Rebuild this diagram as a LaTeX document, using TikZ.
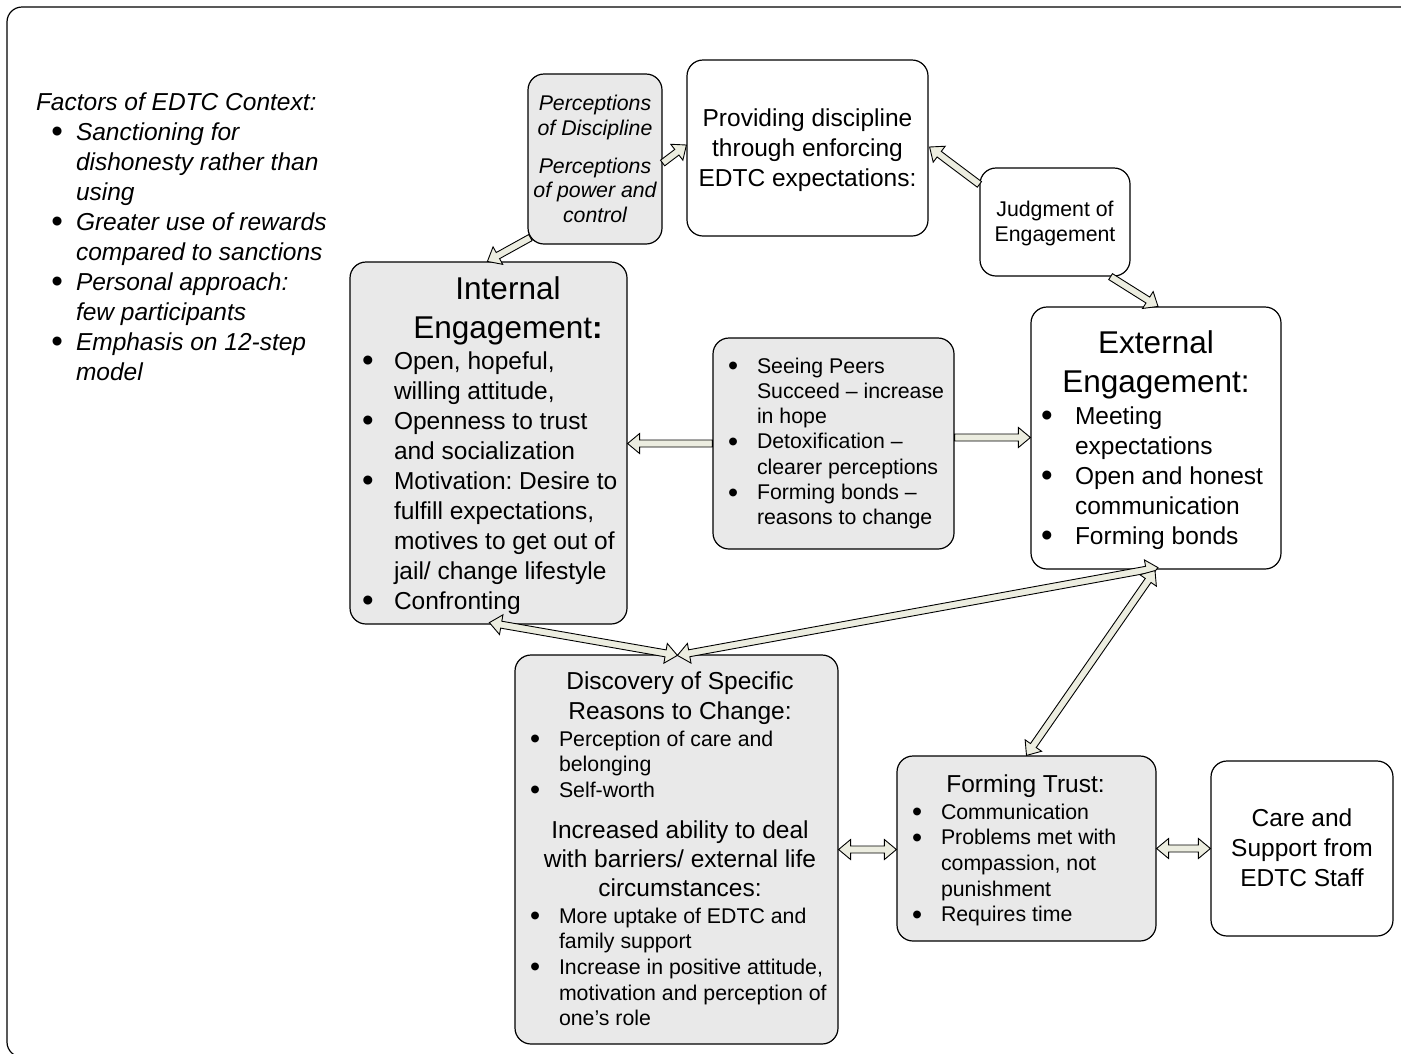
\documentclass[tikz,border=0pt]{standalone}
\usepackage{fontspec}
\usepackage{graphicx}
\setmainfont{Liberation Sans}
\usetikzlibrary{calc}
\definecolor{boxgray}{RGB}{233,233,233}
\definecolor{arrfill}{RGB}{236,237,224}
\frenchspacing

\newcommand{\fT}{\fontsize{31.5pt}{39pt}\selectfont}
\newcommand{\fA}{\fontsize{24.5pt}{30pt}\selectfont}
\newcommand{\fB}{\fontsize{21.3pt}{25.5pt}\selectfont}
\newcommand{\bul}{\raisebox{-0.12em}{\scalebox{1.35}{\textbullet}}}
\newcommand{\Cblk}[1]{\vtop{\lineskiplimit=-100pt\lineskip=0pt\halign{\hfil##\hfil\cr#1\crcr}}}
\newcommand{\Bblk}[2]{\vtop{\lineskiplimit=-100pt\lineskip=0pt\halign{\hbox to #1{##\hss}&##\hfil\cr#2\crcr}}}

\newcommand{\sarrow}[2]{%
 \coordinate (aA) at (#1); \coordinate (aB) at (#2);
 \coordinate (aH) at ($(aB)!12pt!(aA)$);
 \draw[arr] ($(aA)!3.5pt!90:(aB)$) -- ($(aH)!3.5pt!90:(aB)$) -- ($(aH)!10pt!90:(aB)$) -- (aB)
   -- ($(aH)!10pt!-90:(aB)$) -- ($(aH)!3.5pt!-90:(aB)$) -- ($(aA)!3.5pt!-90:(aB)$) -- cycle;}
\newcommand{\darrow}[2]{%
 \coordinate (aA) at (#1); \coordinate (aB) at (#2);
 \coordinate (aH) at ($(aB)!12pt!(aA)$);
 \coordinate (aG) at ($(aA)!12pt!(aB)$);
 \draw[arr] (aA) -- ($(aG)!10pt!90:(aB)$) -- ($(aG)!3.5pt!90:(aB)$) -- ($(aH)!3.5pt!90:(aB)$) -- ($(aH)!10pt!90:(aB)$) -- (aB)
   -- ($(aH)!10pt!-90:(aB)$) -- ($(aH)!3.5pt!-90:(aB)$) -- ($(aG)!3.5pt!-90:(aB)$) -- ($(aG)!10pt!-90:(aB)$) -- cycle;}

\tikzset{
  box/.style={draw=black, line width=1.2pt, rounded corners=16pt, inner sep=0pt, fill=white},
  gbox/.style={box, fill=boxgray},
  arr/.style={draw=black, line width=0.9pt, fill=arrfill, line join=miter},
  txt/.style={inner sep=0pt, outer sep=0pt}
}

\begin{document}
\begin{tikzpicture}[x=1pt, y=-1pt]
\useasboundingbox (0,0) rectangle (1401,1053);
\begin{scope}
\clip (0,0) rectangle (1401,1053);
\draw[line width=1.2pt, rounded corners=15pt] (7,7) rectangle (1450,1057);
\end{scope}

% boxes
\node[gbox, minimum width=134pt, minimum height=170pt] (perc) at (595,159) {};
\node[box, minimum width=241pt, minimum height=176pt] (prov) at (807.5,148) {};
\node[box, minimum width=150pt, minimum height=108pt] (judg) at (1055,222) {};
\node[box, minimum width=250pt, minimum height=262pt] (ext) at (1156,438) {};
\node[gbox, minimum width=277pt, minimum height=362pt] (int) at (488.5,443) {};
\node[gbox, minimum width=241pt, minimum height=211pt] (mid) at (833.5,443.5) {};
\node[gbox, minimum width=323pt, minimum height=389pt] (disc) at (676.5,849.5) {};
\node[gbox, minimum width=259pt, minimum height=185pt] (trust) at (1026.5,848.5) {};
\node[box, minimum width=182pt, minimum height=175pt] (care) at (1302,848.5) {};

% left text
\node[txt, anchor=base west] (tfac) at (36,110) {\fA\itshape Factors of EDTC Context:};
\node[txt, anchor=base west] (tfacl) at (51,140) {\fA\itshape\Bblk{25pt}{%
\bul & Sanctioning for\cr & dishonesty rather than\cr & using\cr
\bul & Greater use of rewards\cr & compared to sanctions\cr
\bul & Personal approach:\cr & few participants\cr
\bul & Emphasis on 12-step\cr & model\cr}};

% perceptions
\node[txt, anchor=base] (tp1) at (595,110) {\fontsize{21.3pt}{25pt}\selectfont\itshape\Cblk{Perceptions\cr of Discipline\cr}};
\node[txt, anchor=base] (tp2) at (595,173) {\fontsize{21.3pt}{24.5pt}\selectfont\itshape\Cblk{Perceptions\cr of power and\cr control\cr}};

% providing
\node[txt, anchor=base] (tprov) at (807.5,126) {\fA\Cblk{Providing discipline\cr through enforcing\cr EDTC expectations:\cr}};
% judgment
\node[txt, anchor=base] (tjudg) at (1055,216) {\fB\Cblk{Judgment of\cr Engagement\cr}};

% internal
\node[txt, anchor=base] (tint) at (508,299) {\fT\Cblk{Internal\cr Engagement\textbf{:}\cr}};
\node[txt, anchor=base west] (tintl) at (362,369) {\fA\Bblk{32pt}{%
\bul & Open, hopeful,\cr & willing attitude,\cr
\bul & Openness to trust\cr & and socialization\cr
\bul & Motivation: Desire to\cr & fulfill expectations,\cr & motives to get out of\cr & jail/ change lifestyle\cr
\bul & Confronting\cr}};

% external
\node[txt, anchor=base] (text) at (1156,353) {\fT\Cblk{External\cr Engagement:\cr}};
\node[txt, anchor=base west] (textl) at (1041,424) {\fA\Bblk{34pt}{%
\bul & Meeting\cr & expectations\cr
\bul & Open and honest\cr & communication\cr
\bul & Forming bonds\cr}};

% middle
\node[txt, anchor=base west] (tmid) at (728,373) {\fontsize{21.3pt}{25.3pt}\selectfont\Bblk{29pt}{%
\bul & Seeing Peers\cr & Succeed – increase\cr & in hope\cr
\bul & Detoxification –\cr & clearer perceptions\cr
\bul & Forming bonds –\cr & reasons to change\cr}};

% discovery
\node[txt, anchor=base] (tdisc) at (680,689) {\fA\Cblk{Discovery of Specific\cr Reasons to Change:\cr}};
\node[txt, anchor=base west] (tdiscl) at (530,746) {\fontsize{21.3pt}{25.7pt}\selectfont\Bblk{29pt}{%
\bul & Perception of care and\cr & belonging\cr
\bul & Self-worth\cr}};
\node[txt, anchor=base] (tinc) at (680,838) {\fontsize{24.5pt}{29pt}\selectfont\Cblk{Increased ability to deal\cr with barriers/ external life\cr circumstances:\cr}};
\node[txt, anchor=base west] (tincl) at (530,923) {\fontsize{21.3pt}{25.7pt}\selectfont\Bblk{29pt}{%
\bul & More uptake of EDTC and\cr & family support\cr
\bul & Increase in positive attitude,\cr & motivation and perception of\cr & one’s role\cr}};

% trust
\node[txt, anchor=base] (ttrust) at (1025.5,792) {\fA Forming Trust:};
\node[txt, anchor=base west] (ttrustl) at (912,819) {\fontsize{21.3pt}{25.7pt}\selectfont\Bblk{29pt}{%
\bul & Communication\cr
\bul & Problems met with\cr & compassion, not\cr & punishment\cr
\bul & Requires time\cr}};

% care
\node[txt, anchor=base] (tcare) at (1302,826) {\fA\Cblk{Care and\cr Support from\cr EDTC Staff\cr}};

% arrows
\sarrow{$(perc.south west)+(3,-7)$}{$(int.north west)+(138,0)$}
\sarrow{$(perc.east)+(0,4)$}{$(prov.west)+(0,-3)$}
\sarrow{$(judg.north west)+(0,17)$}{$(prov.east)+(1,-1)$}
\sarrow{$(judg.south east)+(-20,0)$}{$(ext.north)+(2,0)$}
\sarrow{mid.west}{int.east |- mid.west}
\sarrow{$(mid.east)+(0,-6)$}{$(ext.west |- mid.east)+(0,-6)$}
\darrow{$(int.south west)+(140,-2)$}{$(disc.north west)+(163,1)$}
\darrow{$(disc.north west)+(163,1)$}{$(ext.south)+(2,-2)$}
\darrow{$(ext.south)+(-1,1)$}{trust.north}
\darrow{disc.east}{trust.west |- disc.east}
\darrow{trust.east}{care.west |- trust.east}
\end{tikzpicture}
\end{document}
